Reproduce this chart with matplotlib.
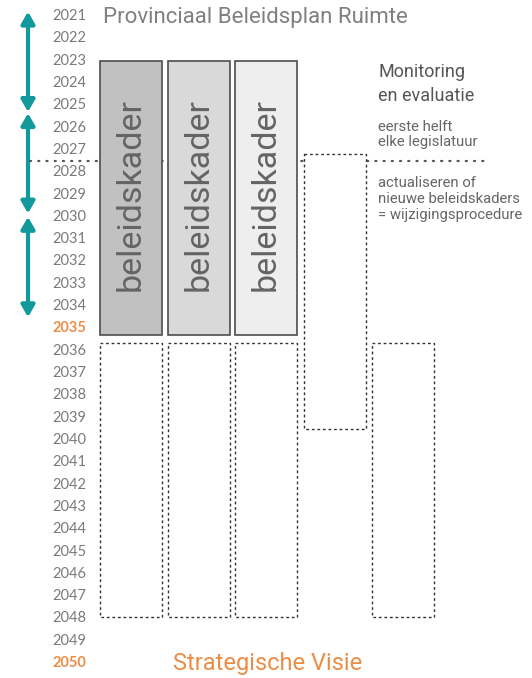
import matplotlib
matplotlib.use("Agg")
import matplotlib.pyplot as plt
from matplotlib.patches import Rectangle, FancyArrowPatch

# jaren op de tijdlijn
years = list(range(2021, 2051))
highlight_years = [2035, 2050]

# legislaturen (pijlen), begin en einde in jaren
legislaturen = [(2020.8, 2025.3), (2025.35, 2029.85), (2030.0, 2034.5)]

# beleidskaders: x-positie, begin, einde, vulkleur
kader_x = [100, 168, 235]
kader_start = 2023.0
kader_end = 2035.3
kader_fill = ["#c1c1c1", "#d9d9d9", "#eeeeee"]

# stippelkaders (toekomstige beleidskaders)
dot_x = [100, 168, 235, 304, 372]
dot_start = [2035.65, 2035.65, 2035.65, 2027.2, 2035.65]
dot_end = [2047.95, 2047.95, 2047.95, 2039.5, 2047.95]
box_w = 62

legislatuur_helft = 2027.5

grey = "#7a7a7a"
dark = "#555555"
orange = "#ec8d45"
teal = "#12999b"

fig = plt.figure(figsize=(5.32, 6.78), dpi=100)
ax = fig.add_axes([0, 0, 1, 1])
ax.set_xlim(0, 532)
ax.set_ylim(2050.67, 2020.28)
ax.axis("off")

# jaartallen
for y in years:
    if y in highlight_years:
        ax.text(86, y, str(y), ha="right", va="center", fontsize=10.5,
                color=orange, fontweight="bold", family="Lato")
    else:
        ax.text(86, y, str(y), ha="right", va="center", fontsize=10.5,
                color=grey, family="Lato")

# pijlen
for a, b in legislaturen:
    arr = FancyArrowPatch((28, b), (28, a), arrowstyle="<|-|>,head_length=0.7,head_width=0.4",
                          mutation_scale=10, color=teal, lw=3, shrinkA=0, shrinkB=0)
    ax.add_patch(arr)

# stippellijn halverwege legislatuur
ax.plot([30, 490], [legislatuur_helft, legislatuur_helft], color=dark, lw=1.6,
        linestyle=(0, (0.5, 3.2)), dash_capstyle="round", zorder=1)

# beleidskaders
for x, c in zip(kader_x, kader_fill):
    ax.add_patch(Rectangle((x, kader_start), box_w, kader_end - kader_start,
                           facecolor=c, edgecolor="#4d4d4d", lw=1.2, zorder=3))
    ax.text(x + box_w / 2, (kader_start + kader_end) / 2 - 0.15, "beleidskader", rotation=90,
            ha="center", va="center", fontsize=24.5, color="#646464",
            family="Roboto", zorder=4)

for x, a, b in zip(dot_x, dot_start, dot_end):
    ax.add_patch(Rectangle((x, a), box_w, b - a, facecolor="white", edgecolor="#333333",
                           lw=1, linestyle=(0, (2, 2)), zorder=2))

# titels
ax.text(103, 2021.05, "Provinciaal Beleidsplan Ruimte", ha="left", va="center",
        fontsize=16, color="#808080", family="Roboto")
ax.text(268, 2050.0, "Strategische Visie", ha="center", va="center",
        fontsize=17, color=orange, family="Roboto")

# toelichting rechts
ax.text(378, 2024.05, "Monitoring\nen evaluatie", ha="left", va="center", fontsize=13,
        color=dark, family="Roboto", linespacing=1.4)
ax.text(378, 2026.3, "eerste helft\nelke legislatuur", ha="left", va="center", fontsize=10.7,
        color="#666666", family="Roboto", linespacing=1.05)
ax.text(378, 2029.2, "actualiseren of\nnieuwe beleidskaders\n= wijzigingsprocedure", ha="left",
        va="center", fontsize=10.7, color="#666666", family="Roboto",
        linespacing=1.22)

fig.savefig("out.png", dpi=100)
